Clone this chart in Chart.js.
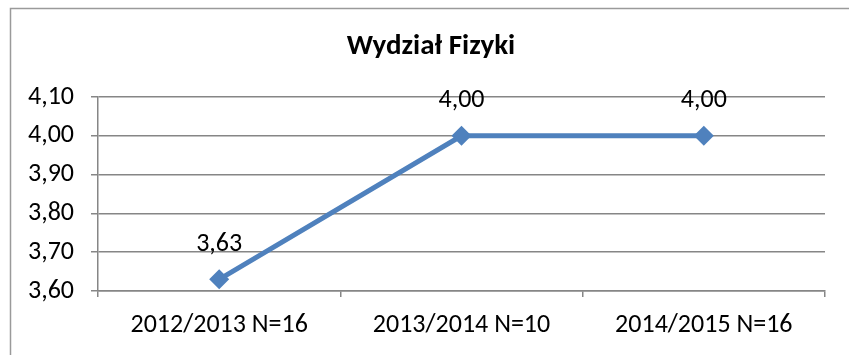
<!DOCTYPE html>
<html>
<head>
<meta charset="utf-8">
<script src="https://cdn.jsdelivr.net/npm/chart.js@4/dist/chart.umd.min.js"></script>
<style>
  html, body { margin: 0; padding: 0; background: #fff; }
  #wrap { width: 849px; height: 355px; }
</style>
</head>
<body>
<div id="wrap"><canvas id="chart"></canvas></div>
<script>
const categories = ['2012/2013 N=16', '2013/2014 N=10', '2014/2015 N=16'];
const values = [3.63, 4.00, 4.00];
const yTicks = [3.6, 3.7, 3.8, 3.9, 4.0, 4.1];

const FONT = 'Carlito, Lato, "Liberation Sans", sans-serif';
const GRID = '#868686';
const LINE = '#4F81BD';

const fmt = v => v.toFixed(2).replace('.', ',');

// frame, title and value labels
const decor = {
  id: 'decor',
  beforeDraw(chart) {
    const ctx = chart.ctx;
    ctx.save();
    ctx.strokeStyle = '#9a9a9a';
    ctx.lineWidth = 1.5;
    ctx.strokeRect(10.5, 8.5, 900, 400);
    ctx.restore();
  },
  afterDatasetsDraw(chart) {
    const ctx = chart.ctx;
    ctx.save();
    ctx.fillStyle = '#000';
    ctx.textAlign = 'center';
    ctx.textBaseline = 'middle';
    ctx.font = 'bold 29px ' + FONT;
    ctx.fillText('Wydział Fizyki', 431, 47);
    ctx.font = '26px ' + FONT;
    chart.getDatasetMeta(0).data.forEach((pt, i) => {
      ctx.fillText(fmt(values[i]), pt.x, pt.y - 35);
    });
    ctx.restore();
  }
};

new Chart(document.getElementById('chart'), {
  type: 'line',
  data: {
    labels: categories,
    datasets: [{
      data: values,
      borderColor: LINE,
      backgroundColor: LINE,
      borderWidth: 5,
      pointStyle: 'rectRot',
      pointRadius: 10,
      pointHoverRadius: 10,
      pointBackgroundColor: LINE,
      pointBorderWidth: 0,
      tension: 0
    }]
  },
  options: {
    responsive: true,
    maintainAspectRatio: false,
    animation: false,
    events: [],
    layout: { padding: { top: 97, right: 24, left: 0, bottom: 0 } },
    plugins: {
      legend: { display: false },
      title: { display: false },
      tooltip: { enabled: false }
    },
    scales: {
      x: {
        type: 'category',
        offset: true,
        grid: {
          offset: true,
          drawOnChartArea: false,
          drawTicks: true,
          tickLength: 6,
          color: GRID,
          lineWidth: 1.5
        },
        border: { color: GRID, width: 1.5 },
        ticks: {
          color: '#000',
          font: { family: FONT, size: 26 },
          padding: 13,
          maxRotation: 0
        },
        afterFit(scale) { scale.height = 64; }
      },
      y: {
        min: 3.6,
        max: 4.1,
        afterBuildTicks(scale) { scale.ticks = yTicks.map(v => ({ value: v })); },
        grid: {
          color: GRID,
          lineWidth: 1.5,
          tickLength: 7
        },
        border: { color: GRID, width: 1.5 },
        ticks: {
          color: '#000',
          font: { family: FONT, size: 26 },
          padding: 17,
          callback: v => fmt(v)
        },
        afterFit(scale) { scale.width = 98; }
      }
    }
  },
  plugins: [decor]
});
</script>
</body>
</html>
